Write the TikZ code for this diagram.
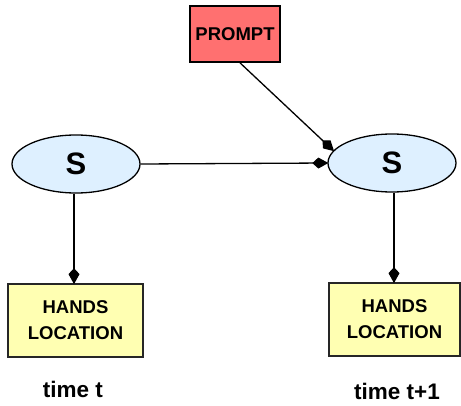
\documentclass[tikz,border=0pt]{standalone}
\usepackage{fontspec}
\setmainfont{Liberation Sans}
\usetikzlibrary{arrows.meta,shapes.geometric}
\definecolor{promptred}{RGB}{255,112,112}
\definecolor{statefill}{RGB}{222,240,255}
\definecolor{obsfill}{RGB}{255,255,178}
\begin{document}
\begin{tikzpicture}[x=1pt,y=-1pt,
  font=\bfseries,
  link/.style={line width=1.3pt,-{Kite[length=16pt,width=11pt,inset=6pt]}, shorten >=-1pt},
  statenode/.style={ellipse,draw,line width=1.3pt,fill=statefill,minimum width=128pt,minimum height=58pt,inner sep=0pt,font=\bfseries\fontsize{31}{34}\selectfont},
  obsnode/.style={rectangle,draw=black!85,line width=1.7pt,fill=obsfill,minimum height=73pt,inner sep=0pt,align=center,font=\bfseries\fontsize{18.5}{26}\selectfont},
  promptnode/.style={rectangle,draw,line width=1.7pt,fill=promptred,minimum width=90pt,minimum height=56pt,inner sep=0pt,font=\bfseries\fontsize{18.5}{20}\selectfont},
  timelabel/.style={inner sep=0pt,font=\bfseries\fontsize{22.5}{24}\selectfont}]
  \useasboundingbox (0,0) rectangle (461,406);

  % prompt and hidden states
  \node[promptnode] (prompt) at (235,34) {PROMPT};
  \node[statenode] (s1) at (76,164) {S};
  \node[statenode] (s2) at (392,163) {S};

  % observed hand positions
  \node[obsnode,minimum width=135pt] (h1) at (75.5,320.5) {HANDS\\LOCATION};
  \node[obsnode,minimum width=131pt] (h2) at (394.5,319.5) {HANDS\\LOCATION};

  % time-slice labels
  \node[timelabel] (t1) at (73,389) {time t};
  \node[timelabel] (t2) at (397,391) {time t+1};

  % dependencies
  \draw[link] ([xshift=5pt]prompt.south) -- (s2.168);
  \draw[link] (s1.east) -- (s2.west);
  \draw[link] ([xshift=-2pt]s1.south) -- ([xshift=-1.5pt]h1.north);
  \draw[link] ([xshift=2pt]s2.south) -- ([xshift=-0.5pt]h2.north);
\end{tikzpicture}
\end{document}
